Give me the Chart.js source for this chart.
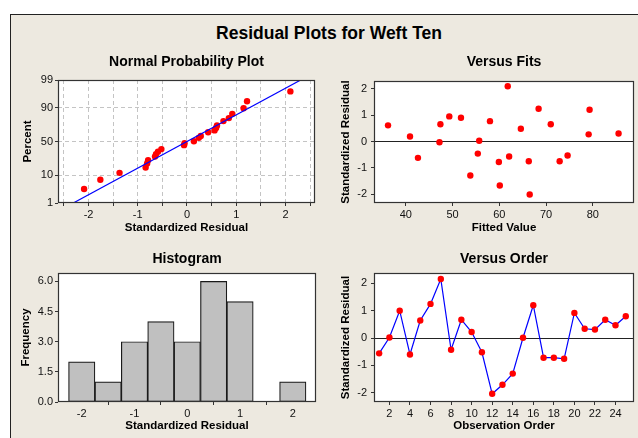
<!DOCTYPE html>
<html>
<head>
<meta charset="utf-8">
<title>Residual Plots for Weft Ten</title>
<script src="https://cdn.jsdelivr.net/npm/chart.js@4.4.1/dist/chart.umd.min.js"></script>
<style>
  html, body { margin: 0; padding: 0; background: #fff; width: 638px; height: 438px; overflow: hidden; }
  #frame { position: absolute; left: 10px; top: 14px; width: 700px; height: 500px;
           background: #EDE9E0; border-left: 1px solid #222; border-top: 1px solid #222; }
  #main-title { position: absolute; left: 0; top: 23px; width: 658px; text-align: center;
                font: bold 17.5px "Liberation Sans", Arial, sans-serif; line-height: 20px; color: #000; }
  canvas { position: absolute; }
</style>
</head>
<body>
<div id="frame"></div>
<div id="main-title">Residual Plots for Weft Ten</div>
<canvas id="npp-chart"   width="310" height="194" style="left:10px;top:46px"></canvas>
<canvas id="fits-chart"  width="318" height="194" style="left:320px;top:46px"></canvas>
<canvas id="hist-chart"  width="310" height="198" style="left:10px;top:240px"></canvas>
<canvas id="order-chart" width="318" height="198" style="left:320px;top:240px"></canvas>
<script>
// ── Data ──
// Normal probability plot: ordered residuals and their plotted percent
const probResiduals = [-2.09, -1.76, -1.37, -0.84, -0.81, -0.79, -0.65, -0.63, -0.59, -0.52,
                       -0.06, -0.05, 0.14, 0.24, 0.28, 0.43, 0.56, 0.59, 0.61, 0.74,
                       0.85, 0.92, 1.15, 1.22, 2.10];
const probPercent   = [3.6, 7.4, 11.8, 16.3, 20.3, 23.9, 28.4, 31.4, 35.0, 38.7,
                       44.5, 47.5, 50.4, 55.5, 58.4, 63.6, 66.3, 69.5, 72.8, 78.0,
                       81.2, 85.2, 89.6, 93.6, 97.1];
const probLineResidual = [-2.31, 2.31];
const probLinePercent  = [1, 99];
const percentTicks     = [1, 10, 50, 90, 99];
const percentGrid      = [10, 50, 90];

// Versus fits
const fittedValues = [36.2, 40.9, 42.6, 47.2, 47.4, 49.3, 51.8, 53.8, 55.4, 55.7, 58.0, 59.9, 60.1,
                      61.8, 62.1, 64.6, 66.3, 66.5, 68.4, 71.0, 72.9, 74.6, 79.1, 79.3, 85.5];
const fitResiduals = [0.61, 0.19, -0.62, -0.03, 0.65, 0.95, 0.90, -1.29, -0.46, 0.03, 0.77, -0.78, -1.67,
                      2.09, -0.57, 0.48, -0.75, -2.01, 1.24, 0.65, -0.75, -0.53, 0.27, 1.20, 0.30];

// Histogram
const binCenters = [-2, -1.5, -1, -0.5, 0, 0.5, 1, 1.5, 2];
const binCounts  = [2, 1, 3, 4, 3, 6, 5, 0, 1];

// Versus order
const observations   = [1, 2, 3, 4, 5, 6, 7, 8, 9, 10, 11, 12, 13, 14, 15, 16, 17, 18, 19, 20, 21, 22, 23, 24, 25];
const orderResiduals = [-0.56, 0.02, 1.00, -0.60, 0.64, 1.25, 2.16, -0.43, 0.67, 0.22, -0.52, -2.04, -1.71,
                        -1.30, 0.01, 1.20, -0.72, -0.72, -0.76, 0.92, 0.34, 0.31, 0.67, 0.47, 0.80];

// ── Helpers ──
Chart.defaults.font.family = '"Liberation Sans", Arial, sans-serif';
Chart.defaults.color = '#111';

// inverse standard normal (Acklam) – used only as the probability-scale transform
function probit(p) {
  const a = [-39.69683028665376, 220.9460984245205, -275.9285104469687, 138.3577518672690, -30.66479806614716, 2.506628277459239];
  const b = [-54.47609879822406, 161.5858589208230, -155.6989798598866, 66.80131188771972, -13.28068155288572];
  const c = [-0.007784894002430293, -0.3223964580411365, -2.400758277161838, -2.549732539343734, 4.374664141464968, 2.938163982698783];
  const d = [0.007784695709041462, 0.3224671290700398, 2.445134137142996, 3.754408661907416];
  const lo = 0.02425;
  let q, r;
  if (p < lo) {
    q = Math.sqrt(-2 * Math.log(p));
    return (((((c[0]*q+c[1])*q+c[2])*q+c[3])*q+c[4])*q+c[5]) / ((((d[0]*q+d[1])*q+d[2])*q+d[3])*q+1);
  }
  if (p > 1 - lo) {
    q = Math.sqrt(-2 * Math.log(1 - p));
    return -(((((c[0]*q+c[1])*q+c[2])*q+c[3])*q+c[4])*q+c[5]) / ((((d[0]*q+d[1])*q+d[2])*q+d[3])*q+1);
  }
  q = p - 0.5; r = q * q;
  return (((((a[0]*r+a[1])*r+a[2])*r+a[3])*r+a[4])*r+a[5])*q / (((((b[0]*r+b[1])*r+b[2])*r+b[3])*r+b[4])*r+1);
}

// white plot area + closed box around it
const plotBox = {
  id: 'plotBox',
  beforeDraw(chart) {
    const { ctx, chartArea: a } = chart;
    ctx.save();
    ctx.fillStyle = '#fff';
    ctx.fillRect(a.left, a.top, a.width, a.height);
    ctx.restore();
  },
  afterDraw(chart) {
    const { ctx, chartArea: a } = chart;
    ctx.save();
    ctx.strokeStyle = '#333';
    ctx.lineWidth = 1.2;
    ctx.strokeRect(Math.round(a.left) + 0.5, Math.round(a.top) + 0.5, Math.round(a.width) - 1, Math.round(a.height) - 1);
    ctx.restore();
  },
};

function panelTitle(text, top, bottom) {
  return {
    display: true, text, fullSize: false, color: '#000',
    font: { size: 14, weight: 'bold', lineHeight: 16 / 14 },
    padding: { top, bottom },
  };
}

function axisTitle(text, pad) {
  return { display: true, text, color: '#000', font: { size: 11.5, weight: 'bold' }, padding: pad };
}

function xAxis(title, min, max, tickValues, height, labelFn, grid) {
  return {
    type: 'linear', min, max,
    afterBuildTicks: s => { s.ticks = tickValues.map(v => ({ value: v })); },
    afterFit: s => { s.height = height; },
    ticks: { font: { size: 11 }, color: '#111', padding: 2, maxRotation: 0, autoSkip: false,
             callback: labelFn || (v => v) },
    grid: Object.assign({ drawOnChartArea: false, tickLength: 3, tickColor: '#333' }, grid || {}),
    border: { display: false, dash: grid && grid.dash ? grid.dash : [] },
    title: axisTitle(title, { top: 0, bottom: 5 }),
  };
}

function yAxis(title, min, max, tickValues, width, titlePad, labelPad, labelFn, grid) {
  return {
    type: 'linear', min, max,
    afterBuildTicks: s => { s.ticks = tickValues.map(v => ({ value: v })); },
    afterFit: s => { s.width = width; },
    ticks: { font: { size: 11 }, color: '#111', padding: labelPad, autoSkip: false,
             callback: labelFn || (v => v) },
    grid: Object.assign({ drawOnChartArea: false, tickLength: 3, tickColor: '#333' }, grid || {}),
    border: { display: false, dash: grid && grid.dash ? grid.dash : [] },
    title: axisTitle(title, { top: titlePad, bottom: 0 }),
  };
}

const zeroLine = {
  drawOnChartArea: true,
  lineWidth: 1,
  color: c => (c.tick && c.tick.value === 0 ? '#222' : 'rgba(0,0,0,0)'),
};

const baseOptions = {
  responsive: false,
  animation: false,
  devicePixelRatio: 1,
  events: [],
};

// ── Normal probability plot ──
new Chart(document.getElementById('npp-chart'), {
  type: 'scatter',
  data: {
    datasets: [
      {
        data: probLineResidual.map((x, i) => ({ x, y: probit(probLinePercent[i] / 100) })),
        showLine: true, borderColor: '#0000FF', borderWidth: 1.2, pointRadius: 0, fill: false,
      },
      {
        data: probResiduals.map((x, i) => ({ x, y: probit(probPercent[i] / 100) })),
        backgroundColor: '#FF0000', borderWidth: 0, pointRadius: 3.2,
      },
    ],
  },
  options: Object.assign({}, baseOptions, {
    layout: { padding: { left: 0, right: 5, top: 0, bottom: 0 } },
    plugins: { legend: { display: false }, tooltip: { enabled: false },
               title: panelTitle('Normal Probability Plot', 8, 10) },
    scales: {
      x: xAxis('Standardized Residual', -2.62, 2.6, [-2.5, -2, -1.5, -1, -0.5, 0, 0.5, 1, 1.5, 2, 2.5], 37,
               v => (Number.isInteger(v) ? v : ''),
               { drawOnChartArea: true, color: '#C4C4C4', lineWidth: 1, dash: [4, 3] }),
      y: Object.assign(
        yAxis('Percent', probit(0.01), probit(0.99), percentTicks.map(p => probit(p / 100)), 48, 11, 2,
              (v, i) => percentTicks[i],
              { drawOnChartArea: true, lineWidth: 1, dash: [4, 3],
                color: c => (c.tick && percentGrid.some(p => Math.abs(probit(p / 100) - c.tick.value) < 1e-9) ? '#C4C4C4' : 'rgba(0,0,0,0)') }),
        {}),
    },
  }),
  plugins: [plotBox],
});

// ── Versus fits ──
new Chart(document.getElementById('fits-chart'), {
  type: 'scatter',
  data: {
    datasets: [{
      data: fittedValues.map((x, i) => ({ x, y: fitResiduals[i] })),
      backgroundColor: '#FF0000', borderWidth: 0, pointRadius: 3.2,
    }],
  },
  options: Object.assign({}, baseOptions, {
    layout: { padding: { left: 0, right: 2, top: 0, bottom: 0 } },
    plugins: { legend: { display: false }, tooltip: { enabled: false },
               title: panelTitle('Versus Fits', 8, 11) },
    scales: {
      x: xAxis('Fitted Value', 33.2, 88.8, [40, 50, 60, 70, 80], 37),
      y: yAxis('Standardized Residual', -2.33, 2.29, [-2, -1, 0, 1, 2], 54, 19, 4, null, zeroLine),
    },
  }),
  plugins: [plotBox],
});

// ── Histogram ──
new Chart(document.getElementById('hist-chart'), {
  type: 'bar',
  data: {
    datasets: [{
      data: binCenters.map((x, i) => ({ x, y: binCounts[i] })),
      backgroundColor: '#C0C0C0', borderColor: '#1A1A1A', borderWidth: 1.2, borderSkipped: false,
      barPercentage: 1, categoryPercentage: 1,
    }],
  },
  options: Object.assign({}, baseOptions, {
    layout: { padding: { left: 0, right: 4, top: 0, bottom: 0 } },
    plugins: { legend: { display: false }, tooltip: { enabled: false },
               title: panelTitle('Histogram', 11, 6) },
    scales: {
      x: Object.assign(xAxis('Standardized Residual', -2.45, 2.44, [-2, -1, 0, 1, 2], 36), { offset: false }),
      y: yAxis('Frequency', 0, 6.42, [0, 1.5, 3, 4.5, 6], 48, 9, 2, v => v.toFixed(1)),
    },
  }),
  plugins: [plotBox],
});

// ── Versus order ──
new Chart(document.getElementById('order-chart'), {
  type: 'line',
  data: {
    datasets: [{
      data: observations.map((x, i) => ({ x, y: orderResiduals[i] })),
      borderColor: '#0000FF', borderWidth: 1.2, tension: 0,
      pointBackgroundColor: '#FF0000', pointBorderWidth: 0, pointRadius: 3.2,
    }],
  },
  options: Object.assign({}, baseOptions, {
    layout: { padding: { left: 0, right: 2, top: 0, bottom: 0 } },
    plugins: { legend: { display: false }, tooltip: { enabled: false },
               title: panelTitle('Versus Order', 11, 6) },
    scales: {
      x: xAxis('Observation Order', 0.5, 25.8, [2, 4, 6, 8, 10, 12, 14, 16, 18, 20, 22, 24], 36),
      y: yAxis('Standardized Residual', -2.34, 2.38, [-2, -1, 0, 1, 2], 54, 19, 4, null, zeroLine),
    },
  }),
  plugins: [plotBox],
});
</script>
</body>
</html>
